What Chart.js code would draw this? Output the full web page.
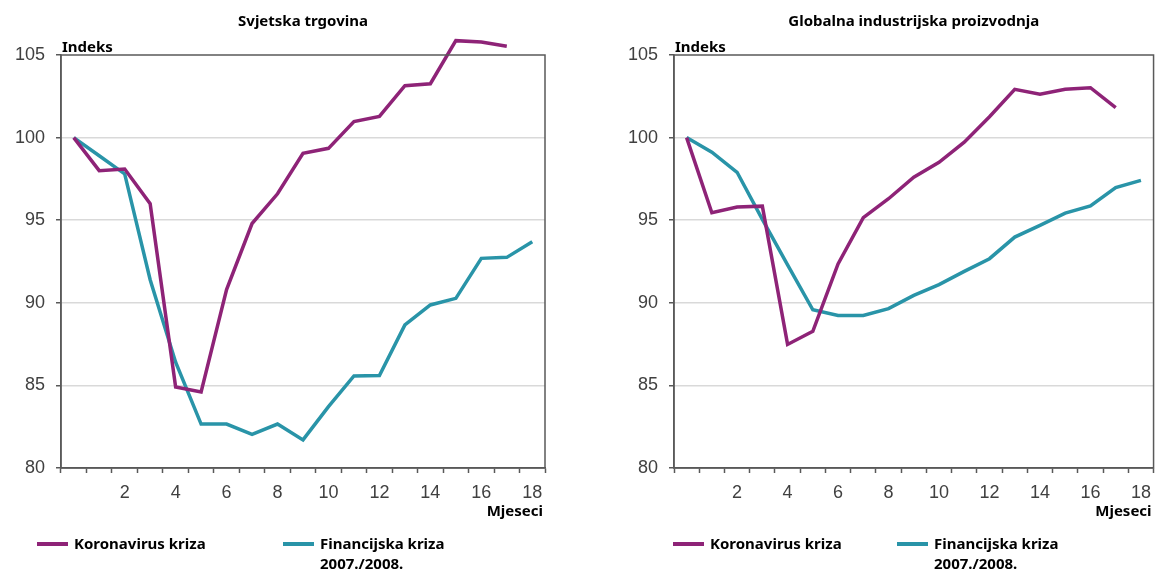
<!DOCTYPE html>
<html>
<head>
<meta charset="utf-8">
<script src="https://cdn.jsdelivr.net/npm/chart.js@4.4.0/dist/chart.umd.min.js"></script>
<style>
  html, body { margin: 0; padding: 0; background: #fff; overflow: hidden; }
  body { width: 1157px; height: 572px; position: relative; }
  canvas { position: absolute; top: 0; }
  #tradeChart { left: 0; }
  #prodChart { left: 580px; }
</style>
</head>
<body>
<canvas id="tradeChart" width="580" height="572"></canvas>
<canvas id="prodChart" width="580" height="572"></canvas>
<script>
// months since start of crisis
const MONTHS = ['0','1','2','3','4','5','6','7','8','9','10','11','12','13','14','15','16','17','18'];
const Y_TICKS = [80, 85, 90, 95, 100, 105];

const SERIES_COVID = 'Koronavirus kriza';
const SERIES_GFC = ['Financijska kriza', '2007./2008.'];
const COLOR_COVID = '#8E2377';
const COLOR_GFC = '#2994A8';

// Svjetska trgovina
const tradeCovid = [100, 98.0, 98.1, 96.0, 84.9, 84.6, 90.8, 94.8, 96.6, 99.05, 99.35, 100.97, 101.28, 103.14, 103.26, 105.87, 105.79, 105.53, null];
const tradeGfc = [100, 98.9, 97.8, 91.4, 86.4, 82.66, 82.66, 82.04, 82.66, 81.7, 83.71, 85.57, 85.6, 88.66, 89.87, 90.27, 92.69, 92.75, 93.7];

// Globalna industrijska proizvodnja
const prodCovid = [100, 95.45, 95.8, 95.85, 87.48, 88.27, 92.35, 95.15, 96.3, 97.6, 98.5, 99.72, 101.26, 102.92, 102.63, 102.92, 103.02, 101.82, null];
const prodGfc = [100, 99.12, 97.9, 95.05, 92.3, 89.58, 89.23, 89.23, 89.65, 90.45, 91.1, 91.9, 92.67, 93.98, 94.69, 95.43, 95.86, 96.97, 97.41];

const TEXT_FONT = '"Noto Sans", "DejaVu Sans", sans-serif';
const TICK_FONT = '"Liberation Sans", Arial, sans-serif';

const decor = {
  id: 'decor',
  afterDraw(chart, args, opts) {
    const { ctx, chartArea: a } = chart;
    ctx.save();
    // plot frame
    ctx.strokeStyle = '#595959';
    ctx.lineWidth = 1.5;
    ctx.strokeRect(a.left, a.top, a.right - a.left, a.bottom - a.top);

    ctx.fillStyle = '#000';
    ctx.font = 'bold 15px ' + TEXT_FONT;
    ctx.textBaseline = 'alphabetic';
    ctx.textAlign = 'center';
    ctx.fillText(opts.title, (a.left + a.right) / 2, 26);
    ctx.textAlign = 'left';
    ctx.fillText('Indeks', a.left + 1, a.top - 3);
    ctx.textAlign = 'right';
    ctx.fillText('Mjeseci', Math.min(a.right - 2, chart.width - 2), a.bottom + 48);

    // legend
    ctx.textAlign = 'left';
    chart.data.datasets.forEach((ds, i) => {
      const x = opts.legendX[i];
      ctx.strokeStyle = ds.borderColor;
      ctx.lineWidth = 4;
      ctx.beginPath();
      ctx.moveTo(x, 544);
      ctx.lineTo(x + 31, 544);
      ctx.stroke();
      const lines = Array.isArray(ds.label) ? ds.label : [ds.label];
      lines.forEach((t, j) => ctx.fillText(t, x + 37, 549 + j * 20));
    });
    ctx.restore();
  }
};

function makeChart(id, title, covid, gfc, padLeft, legendX) {
  return new Chart(document.getElementById(id), {
    type: 'line',
    data: {
      labels: MONTHS,
      datasets: [
        { label: SERIES_COVID, data: covid, borderColor: COLOR_COVID, borderWidth: 3.5, pointRadius: 0, tension: 0, clip: false },
        { label: SERIES_GFC, data: gfc, borderColor: COLOR_GFC, borderWidth: 3.5, pointRadius: 0, tension: 0, clip: false }
      ]
    },
    options: {
      responsive: false,
      animation: false,
      events: [],
      layout: { padding: { left: padLeft, right: 580 - padLeft - 61 - 484, top: 55, bottom: 64 } },
      plugins: {
        legend: { display: false },
        tooltip: { enabled: false },
        decor: { title: title, legendX: legendX }
      },
      scales: {
        x: {
          type: 'category',
          offset: true,
          grid: { offset: true, drawOnChartArea: false, tickLength: 5, tickColor: '#595959', tickWidth: 1.5 },
          border: { color: '#595959', width: 1.5 },
          ticks: {
            autoSkip: false, maxRotation: 0, padding: 9,
            color: '#404040', font: { family: TICK_FONT, size: 18 },
            callback: (v, i) => (i > 0 && i % 2 === 0) ? MONTHS[i] : ''
          },
          afterFit: s => { s.height = 40; }
        },
        y: {
          min: Y_TICKS[0], max: Y_TICKS[Y_TICKS.length - 1],
          afterBuildTicks: s => { s.ticks = Y_TICKS.map(v => ({ value: v })); },
          grid: {
            color: c => (c.tick && (c.tick.value === 80 || c.tick.value === 105)) ? 'rgba(0,0,0,0)' : '#D9D9D9',
            lineWidth: 1.5, tickLength: 5, tickColor: '#595959'
          },
          border: { color: '#595959', width: 1.5 },
          ticks: { color: '#404040', font: { family: TICK_FONT, size: 18 }, padding: 11 },
          afterFit: s => { s.width = 61; }
        }
      }
    },
    plugins: [decor]
  });
}

makeChart('tradeChart', 'Svjetska trgovina', tradeCovid, tradeGfc, 0, [37, 283]);
makeChart('prodChart', 'Globalna industrijska proizvodnja', prodCovid, prodGfc, 33, [93, 317]);
</script>
</body>
</html>
